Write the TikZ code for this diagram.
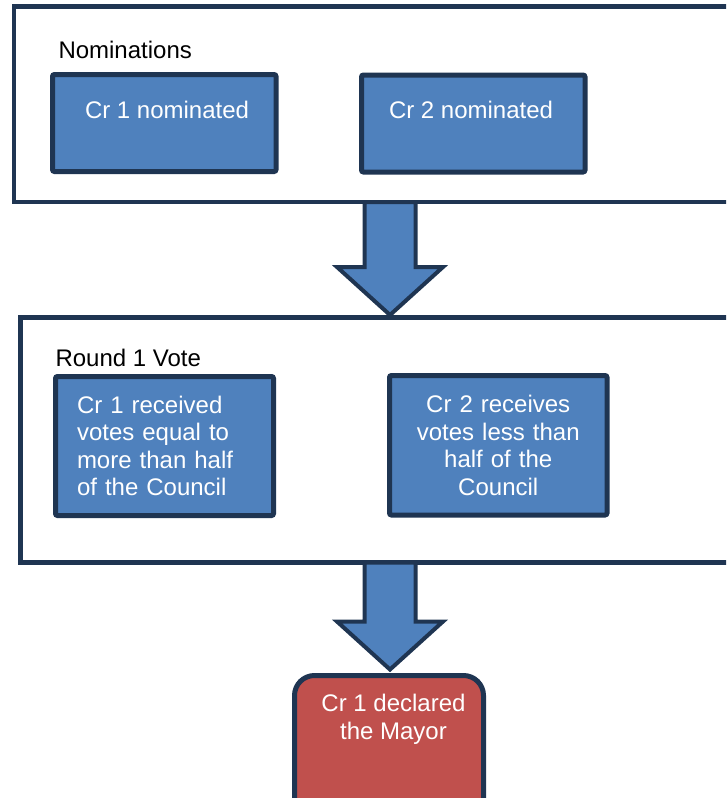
\documentclass[tikz,border=0pt]{standalone}
\usepackage{fontspec}
\setmainfont{Liberation Sans}
\usetikzlibrary{calc}
\definecolor{navy}{HTML}{1F3552}
\definecolor{boxblue}{HTML}{4F81BD}
\definecolor{boxred}{HTML}{C0504D}
\tikzset{
  every node/.style={outer sep=0pt},
  txt/.style={font=\fontsize{24}{27.5}\selectfont, inner sep=0pt},
  outerbox/.style={draw=navy, line width=4.5pt, fill=white, anchor=north west, inner sep=0pt},
  bluebox/.style={draw=navy, line width=5pt, fill=boxblue, rounded corners=2pt, anchor=north west,
     font=\fontsize{24}{27.5}\selectfont, text=white},
  redbox/.style={draw=navy, line width=5pt, fill=boxred, rounded corners=20pt, anchor=north west},
  barrow/.style={draw=navy, line width=4pt, fill=boxblue, line join=miter}
}
\newcommand{\blockarrow}[2]{%
  \draw[barrow] ($(#1)+(-25.5,0)$) -- ($(#1)+(25.5,0)$) -- ($(#2)+(25.5,-48)$)
    -- ($(#2)+(53,-48)$) -- (#2) -- ($(#2)+(-53,-48)$) -- ($(#2)+(-25.5,-48)$) -- cycle;}
\begin{document}
\begin{tikzpicture}[x=1pt,y=-1pt]
\useasboundingbox (0,0) rectangle (726,798);
\clip (0,0) rectangle (726,798);
% outer group boxes
\node[outerbox, minimum width=760, minimum height=195.5] (nom) at (14,6.5) {};
\node[outerbox, minimum width=760, minimum height=245] (round) at (20.5,317.5) {};
% labels
\node[txt, anchor=base west] (nomlabel) at (58.5,58.5) {Nominations};
\node[txt, anchor=base west] (roundlabel) at (55.5,366.5) {Round 1 Vote};
% nomination boxes
\node[bluebox, minimum width=223.5, minimum height=97] (cr1) at (52.5,74.5) {};
\node[bluebox, minimum width=223.5, minimum height=97] (cr2) at (361.5,75) {};
\node[txt, text=white, anchor=base west] (cr1text) at (85,118.3) {Cr 1 nominated};
\node[txt, text=white, anchor=base west] (cr2text) at (389,118.3) {Cr 2 nominated};
% vote boxes
\node[bluebox, minimum width=218, minimum height=139, inner xsep=21.5, text width=175, align=left] (v1) at (55.5,376.5)
  {Cr 1 received\\votes equal to\\more than half\\of the Council};
\node[bluebox, minimum width=217.5, minimum height=139.5, inner xsep=10, text width=197.5, align=center] (v2) at (389.5,375.5)
  {Cr 2 receives\\votes less than\\half of the\\Council};
% mayor
\node[redbox, minimum width=189, minimum height=200] (mayor) at (294.5,675.5) {};
\node[txt, text=white, align=center] (mayortext) at (393.5,719.3) {Cr 1 declared\\the Mayor};
% block arrows
\coordinate (a1s) at (nom.south -| 390,0);
\coordinate (a1e) at (390,315);
\coordinate (a2s) at (round.south -| 390,0);
\coordinate (a2e) at (390,669.5);
\blockarrow{a1s}{a1e}
\blockarrow{a2s}{a2e}
\end{tikzpicture}
\end{document}
